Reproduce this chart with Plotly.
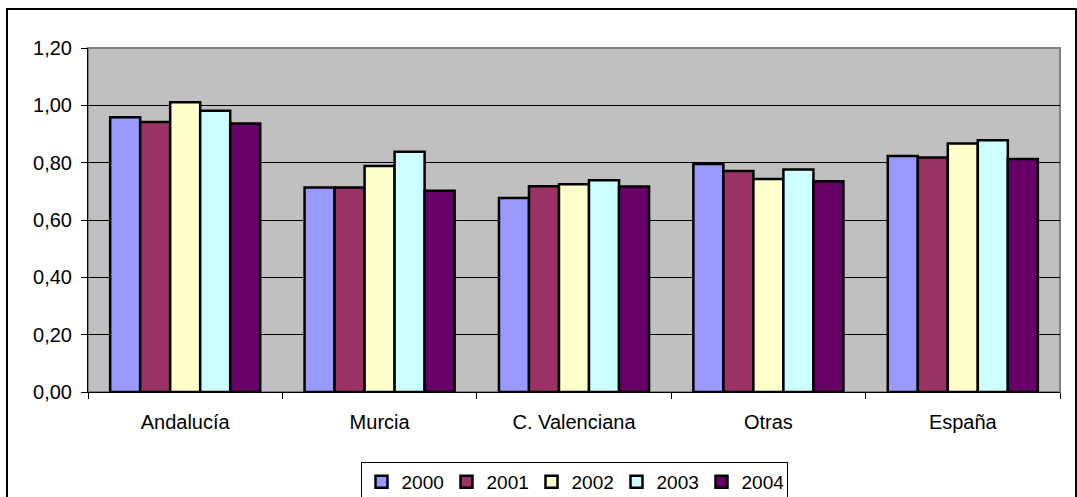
import plotly.graph_objects as go

categories = ["Andalucía", "Murcia", "C. Valenciana", "Otras", "España"]
years = ["2000", "2001", "2002", "2003", "2004"]
values_2000 = [0.958, 0.713, 0.677, 0.795, 0.823]
values_2001 = [0.942, 0.713, 0.718, 0.771, 0.818]
values_2002 = [1.011, 0.788, 0.725, 0.743, 0.867]
values_2003 = [0.981, 0.838, 0.739, 0.776, 0.878]
values_2004 = [0.937, 0.702, 0.717, 0.735, 0.813]
series = [values_2000, values_2001, values_2002, values_2003, values_2004]
colors = ["#9999FF", "#993366", "#FFFFCC", "#CCFFFF", "#660066"]
y_ticks = [0, 0.2, 0.4, 0.6, 0.8, 1.0, 1.2]

W, H = 1077, 497
L, R, T, B = 88, 17, 48, 105
pw, ph = W - L - R, H - T - B

def px2x(p):
    return (p - L) / pw

def py2y(p):
    return (H - B - p) / ph

fig = go.Figure()
for name, vals, col in zip(years, series, colors):
    fig.add_trace(go.Bar(
        x=categories, y=vals, name=name,
        marker=dict(color=col, line=dict(color="black", width=2.5)),
    ))

font = dict(family="Arial, 'Liberation Sans', sans-serif", size=20, color="black")
legend_font = dict(family="Arial, 'Liberation Sans', sans-serif", size=19, color="black")

fig.update_layout(
    width=W, height=H,
    margin=dict(l=L, r=R, t=T, b=B, autoexpand=False),
    barmode="group", bargap=0.228, bargroupgap=0,
    plot_bgcolor="#C0C0C0", paper_bgcolor="white",
    separators=",.",
    font=font,
    showlegend=True,
    legend=dict(
        orientation="h", x=px2x(574), xanchor="center",
        y=py2y(462), yanchor="top",
        bordercolor="black", borderwidth=1, bgcolor="white",
        font=legend_font, itemwidth=30, tracegroupgap=0,
        entrywidth=40, entrywidthmode="pixels",
    ),
    xaxis=dict(
        showgrid=False, showline=True, linecolor="black", linewidth=1,
        ticks="outside", tickson="boundaries", ticklen=6, tickcolor="black",
        tickfont=font, mirror=False, ticklabelstandoff=12, automargin=False,
    ),
    yaxis=dict(
        range=[0, 1.2], tickvals=y_ticks, tickformat=".2f",
        showgrid=True, gridcolor="black", gridwidth=1,
        showline=True, linecolor="black", linewidth=1,
        ticks="outside", ticklen=6, tickcolor="black", tickfont=font,
        zeroline=False, ticklabelstandoff=5, automargin=False,
    ),
    shapes=[
        dict(type="rect", xref="paper", yref="paper",
             x0=0, x1=1, y0=0, y1=1,
             line=dict(color="#808080", width=2), layer="below"),
        dict(type="rect", xref="paper", yref="paper",
             x0=px2x(7), x1=px2x(1076), y0=py2y(9), y1=py2y(530),
             line=dict(color="black", width=2)),
    ],
)

fig.write_html("out.html")
